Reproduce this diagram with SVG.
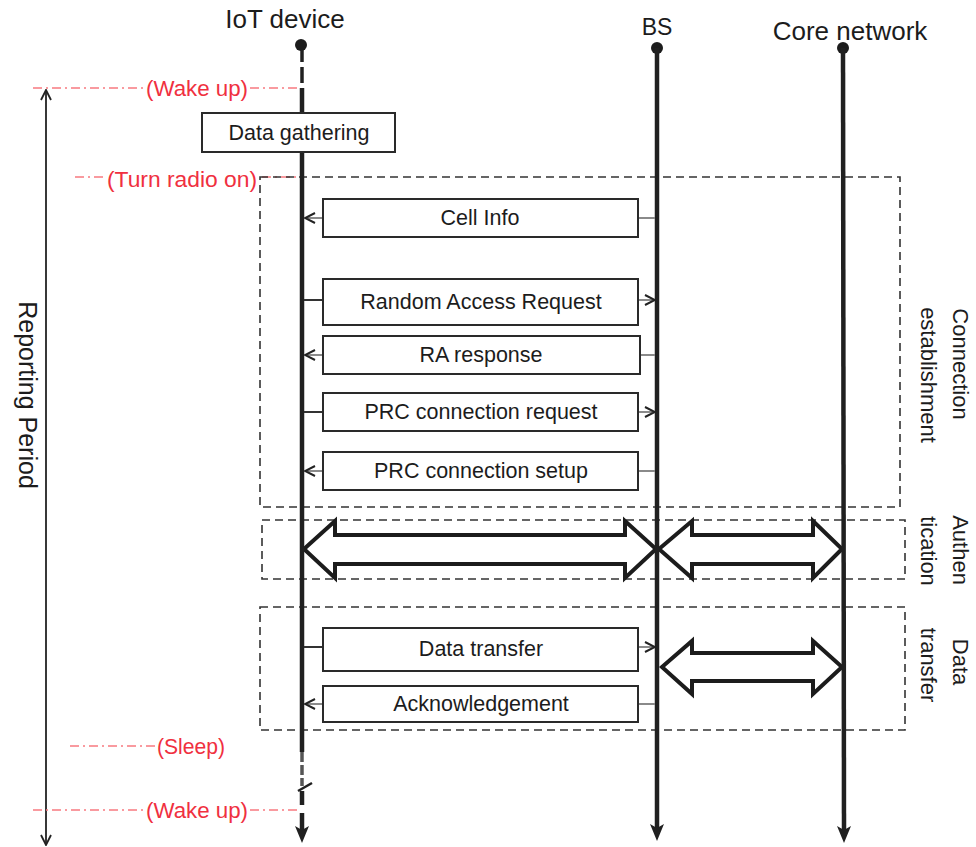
<svg xmlns="http://www.w3.org/2000/svg" width="976" height="847" viewBox="0 0 976 847">
<style>
  text { font-family: "Liberation Sans", Arial, sans-serif; fill: #1c1c1c; }
  .lbl { font-size: 21.5px; text-anchor: middle; dominant-baseline: central; }
  .hdr { font-size: 26px; text-anchor: middle; }
  .red { font-size: 22px; fill: #f03040; dominant-baseline: central; }
  .redline { stroke: #f87a80; stroke-width: 1.6; stroke-dasharray: 9 4 2 4; fill: none; }
  .box { fill: #fff; stroke: #2a2a2a; stroke-width: 2; }
  .group { fill: none; stroke: #333; stroke-width: 1.6; stroke-dasharray: 8 5; }
  .life { stroke: #202020; stroke-width: 4.5; fill: none; }
  .msg { stroke: #8a8a8a; stroke-width: 2; fill: none; }
  .msgd { stroke: #333; stroke-width: 2; fill: none; }
  .dbl { fill: #fff; stroke: #1c1c1c; stroke-width: 4; stroke-linejoin: miter; }
  .side { font-size: 22px; text-anchor: middle; }
</style>
<defs>
  <marker id="chev" viewBox="0 0 12 12" refX="11" refY="6" markerWidth="12" markerHeight="12" markerUnits="userSpaceOnUse" orient="auto">
    <path d="M1,1 L11,6 L1,11" fill="none" stroke="#222" stroke-width="2"/>
  </marker>
  <marker id="chevThin" viewBox="0 0 12 12" refX="11" refY="6" markerWidth="12" markerHeight="12" markerUnits="userSpaceOnUse" orient="auto-start-reverse">
    <path d="M1,1 L11,6 L1,11" fill="none" stroke="#222" stroke-width="1.8"/>
  </marker>
</defs>

<!-- Reporting period -->
<g id="reporting-period">
  <line x1="46" y1="90" x2="46" y2="845" stroke="#222" stroke-width="1.8" marker-start="url(#chevThin)" marker-end="url(#chevThin)"/>
  <text transform="translate(19,395) rotate(90)" font-size="25" text-anchor="middle">Reporting Period</text>
</g>

<!-- Red event lines -->
<g id="events">
  <line class="redline" x1="33" y1="88" x2="145" y2="88"/>
  <line class="redline" x1="250" y1="88" x2="298" y2="88"/>
  <text class="red" x="146" y="88" textLength="102" lengthAdjust="spacingAndGlyphs">(Wake up)</text>
  <line class="redline" x1="75" y1="177" x2="106" y2="177"/>
  <line class="redline" x1="262" y1="177" x2="298" y2="177"/>
  <text class="red" x="107" y="179" textLength="150" lengthAdjust="spacingAndGlyphs">(Turn radio on)</text>
  <line class="redline" x1="70" y1="746" x2="156" y2="746"/>
  <text class="red" x="157" y="746" textLength="68" lengthAdjust="spacingAndGlyphs">(Sleep)</text>
  <line class="redline" x1="33" y1="810" x2="145" y2="810"/>
  <line class="redline" x1="250" y1="810" x2="298" y2="810"/>
  <text class="red" x="146" y="810" textLength="102" lengthAdjust="spacingAndGlyphs">(Wake up)</text>
</g>

<!-- Group boxes -->
<g id="group-connection">
  <rect class="group" x="260" y="177" width="640" height="330"/>
  <text class="side" transform="translate(953,364) rotate(90)">Connection</text>
  <text class="side" transform="translate(921,375) rotate(90)">establishment</text>
</g>
<g id="group-authentication">
  <rect class="group" x="262" y="520" width="643" height="59"/>
  <text class="side" transform="translate(953,550) rotate(90)">Authen</text>
  <text class="side" transform="translate(921,551) rotate(90)">tication</text>
</g>
<g id="group-data">
  <rect class="group" x="260" y="607" width="645" height="123"/>
  <text class="side" transform="translate(953,662) rotate(90)">Data</text>
  <text class="side" transform="translate(921,665) rotate(90)">transfer</text>
</g>

<!-- Double arrows -->
<g id="auth-arrows">
  <polygon class="dbl" points="304,549 335,521 335,535 625,535 625,521 656,549 625,578 625,564 335,564 335,578"/>
  <polygon class="dbl" points="659,549 692,521 692,535 813,535 813,521 842,549 813,578 813,564 692,564 692,578"/>
</g>
<g id="data-arrow">
  <polygon class="dbl" points="662,667 692,641 692,653 813,653 813,641 842,667 813,694 813,681 692,681 692,694"/>
</g>

<!-- Lifelines -->
<g id="iot-device">
  <text class="hdr" x="285" y="28">IoT device</text>
  <circle cx="301" cy="45" r="6" fill="#1c1c1c"/>
  <line x1="302" y1="50" x2="302" y2="62" stroke="#202020" stroke-width="3.5"/>
  <line x1="302" y1="67" x2="302" y2="83" stroke="#202020" stroke-width="3.5"/>
  <line class="life" x1="302" y1="88" x2="302" y2="752"/>
  <line x1="302" y1="752" x2="302" y2="786" stroke="#555" stroke-width="3.5" stroke-dasharray="10 3"/>
  <line x1="298" y1="791" x2="312" y2="783" stroke="#202020" stroke-width="2.5"/>
  <line class="life" x1="302" y1="791" x2="302" y2="805"/>
  <line class="life" x1="302" y1="813" x2="302" y2="830"/>
  <polygon points="295,826 302,830 309,826 302,843" fill="#202020"/>
</g>
<g id="bs">
  <text x="657" y="35" font-size="23" text-anchor="middle">BS</text>
  <circle cx="657" cy="48" r="6" fill="#1c1c1c"/>
  <line class="life" x1="657" y1="48" x2="657" y2="828"/>
  <polygon points="650,824 657,828 664,824 657,841" fill="#202020"/>
</g>
<g id="core-network">
  <text class="hdr" x="850" y="40">Core network</text>
  <circle cx="843" cy="48" r="6" fill="#1c1c1c"/>
  <line class="life" x1="843" y1="48" x2="844" y2="830"/>
  <polygon points="837,826 844,830 851,826 844,843" fill="#202020"/>
</g>

<!-- Data gathering -->
<g id="data-gathering">
  <rect class="box" x="202" y="113" width="193" height="39"/>
  <text class="lbl" x="299" y="133">Data gathering</text>
</g>

<!-- Message connectors -->
<g id="connectors">
  <line class="msg" x1="655" y1="218" x2="638" y2="218"/>
  <line class="msg" x1="323" y1="218" x2="305" y2="218" marker-end="url(#chev)"/>

  <line class="msgd" x1="304" y1="300" x2="323" y2="300"/>
  <line class="msg" x1="638" y1="300" x2="655" y2="300" marker-end="url(#chev)"/>

  <line class="msg" x1="655" y1="355" x2="640" y2="355"/>
  <line class="msg" x1="323" y1="355" x2="305" y2="355" marker-end="url(#chev)"/>

  <line class="msgd" x1="304" y1="412" x2="323" y2="412"/>
  <line class="msg" x1="638" y1="412" x2="655" y2="412" marker-end="url(#chev)"/>

  <line class="msg" x1="655" y1="471" x2="638" y2="471"/>
  <line class="msg" x1="323" y1="471" x2="305" y2="471" marker-end="url(#chev)"/>

  <line class="msgd" x1="304" y1="647" x2="323" y2="647"/>
  <line class="msg" x1="638" y1="647" x2="655" y2="647" marker-end="url(#chev)"/>

  <line class="msg" x1="655" y1="704" x2="638" y2="704"/>
  <line class="msg" x1="323" y1="704" x2="305" y2="704" marker-end="url(#chev)"/>
</g>

<!-- Message boxes -->
<g id="msg-cell-info">
  <rect class="box" x="323" y="199" width="315" height="38"/>
  <text class="lbl" x="480" y="218">Cell Info</text>
</g>
<g id="msg-random-access-request">
  <rect class="box" x="323" y="279" width="315" height="46"/>
  <text class="lbl" x="481" y="302">Random Access Request</text>
</g>
<g id="msg-ra-response">
  <rect class="box" x="323" y="336" width="317" height="38"/>
  <text class="lbl" x="481" y="355">RA response</text>
</g>
<g id="msg-prc-connection-request">
  <rect class="box" x="323" y="393" width="315" height="38"/>
  <text class="lbl" x="481" y="412">PRC connection request</text>
</g>
<g id="msg-prc-connection-setup">
  <rect class="box" x="323" y="452" width="315" height="38"/>
  <text class="lbl" x="481" y="471">PRC connection setup</text>
</g>
<g id="msg-data-transfer">
  <rect class="box" x="323" y="628" width="315" height="43"/>
  <text class="lbl" x="481" y="649">Data transfer</text>
</g>
<g id="msg-acknowledgement">
  <rect class="box" x="323" y="686" width="315" height="36"/>
  <text class="lbl" x="481" y="704">Acknowledgement</text>
</g>
</svg>
